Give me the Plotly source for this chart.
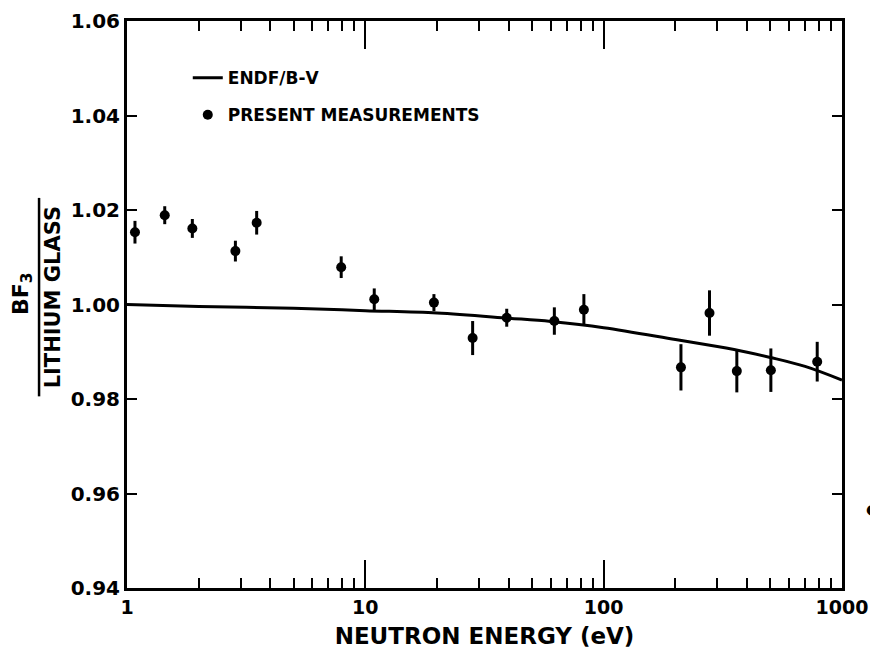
import math
import plotly.graph_objects as go

# ---- data ----
meas_energy = [1.08, 1.44, 1.88, 2.85, 3.50, 7.92, 10.9, 19.4, 28.2, 39.2, 62.1, 82.6,
               211, 278, 362, 503, 787]
meas_ratio = [1.0153, 1.0189, 1.0161, 1.0113, 1.0173, 1.0079, 1.0011, 1.0004, 0.9929,
              0.9972, 0.9965, 0.9989, 0.9867, 0.9982, 0.9859, 0.9861, 0.9879]
meas_err = [0.0024, 0.0019, 0.0020, 0.0022, 0.0025, 0.0023, 0.0023, 0.0018, 0.0036,
            0.0019, 0.0029, 0.0033, 0.0049, 0.0048, 0.0045, 0.0046, 0.0042]

# a point beyond the axis range (cut off at the figure's right edge)
extra_energy = 1340
extra_ratio = 0.9567

endf_energy = [1, 2, 5, 10, 20, 40, 60, 100, 200, 300, 400, 500, 700, 1000]
endf_ratio = [1.0000, 0.9996, 0.9992, 0.9987, 0.9982, 0.9971, 0.9964, 0.9951, 0.9926,
              0.9911, 0.9899, 0.9888, 0.9869, 0.9840]

x_range_log = [0, 3]
y_range = [0.94, 1.06]
x_tickvals = [1, 10, 100, 1000]
x_ticktext = ["1", "10", "100", "1000"]
y_tickvals = [0.94, 0.96, 0.98, 1.00, 1.02, 1.04, 1.06]
y_ticktext = ["0.94", "0.96", "0.98", "1.00", "1.02", "1.04", "1.06"]

FONT = "DejaVu Sans"

fig = go.Figure()
fig.add_trace(go.Scatter(
    x=endf_energy, y=endf_ratio, mode="lines", name="ENDF/B-Ⅴ",
    line=dict(color="black", width=3, shape="spline"),
    legendgroup="a",
))
fig.add_trace(go.Scatter(
    x=meas_energy, y=meas_ratio, mode="markers", name="PRESENT MEASUREMENTS",
    marker=dict(color="black", size=10),
    error_y=dict(type="data", array=meas_err, visible=True, color="black",
                 thickness=3, width=0),
    legendgroup="b",
))

fig.update_layout(
    width=870, height=653,
    margin=dict(l=127, r=28, t=21, b=65),
    paper_bgcolor="white", plot_bgcolor="white",
    font=dict(family=FONT, color="black", size=18),
    showlegend=True,
    legend=dict(x=0.085, y=0.931, xanchor="left", yanchor="top",
                bgcolor="rgba(0,0,0,0)", borderwidth=0,
                font=dict(family=FONT, size=17, color="black", weight="bold"),
                tracegroupgap=12, traceorder="grouped"),
    xaxis=dict(
        type="log", range=x_range_log, automargin=False,
        tickvals=x_tickvals, ticktext=x_ticktext,
        ticks="inside", ticklen=28, tickwidth=2, tickcolor="black",
        showline=True, linewidth=3, linecolor="black", mirror="ticks",
        showgrid=False, zeroline=False,
        tickfont=dict(family=FONT, size=19, weight="bold"),
        minor=dict(ticks="inside", ticklen=10, tickwidth=2, tickcolor="black",
                   dtick="D1", showgrid=False),
        title=dict(text="NEUTRON ENERGY (eV)",
                   font=dict(family=FONT, size=23, weight="bold"), standoff=12),
    ),
    yaxis=dict(
        range=y_range, automargin=False,
        tickvals=y_tickvals, ticktext=y_ticktext,
        ticks="inside", ticklen=10, tickwidth=2, tickcolor="black",
        showline=True, linewidth=3, linecolor="black", mirror="ticks",
        showgrid=False, zeroline=False,
        tickfont=dict(family=FONT, size=20, weight="bold"),
    ),
)

# out-of-range point, placed from its data value relative to the axis ranges
fig.add_annotation(
    text="●", xref="paper", yref="paper",
    x=(math.log10(extra_energy) - x_range_log[0]) / (x_range_log[1] - x_range_log[0]),
    y=(extra_ratio - y_range[0]) / (y_range[1] - y_range[0]),
    xanchor="center", yanchor="middle", showarrow=False,
    font=dict(family=FONT, size=14, color="black"),
)

# y-axis title as a fraction BF3 / LITHIUM GLASS
fig.add_annotation(text="BF<sub>3</sub>", xref="paper", yref="paper",
                   x=-0.147, y=0.52, xanchor="center", yanchor="middle",
                   textangle=-90, showarrow=False,
                   font=dict(family=FONT, size=22, color="black", weight="bold"))
fig.add_annotation(text="LITHIUM GLASS", xref="paper", yref="paper",
                   x=-0.104, y=0.512, xanchor="center", yanchor="middle",
                   textangle=-90, showarrow=False,
                   font=dict(family=FONT, size=21, color="black", weight="bold"))
fig.add_shape(type="line", xref="paper", yref="paper",
              x0=-0.123, x1=-0.123, y0=0.338, y1=0.688,
              line=dict(color="black", width=2.5))

fig.write_html("out.html")
